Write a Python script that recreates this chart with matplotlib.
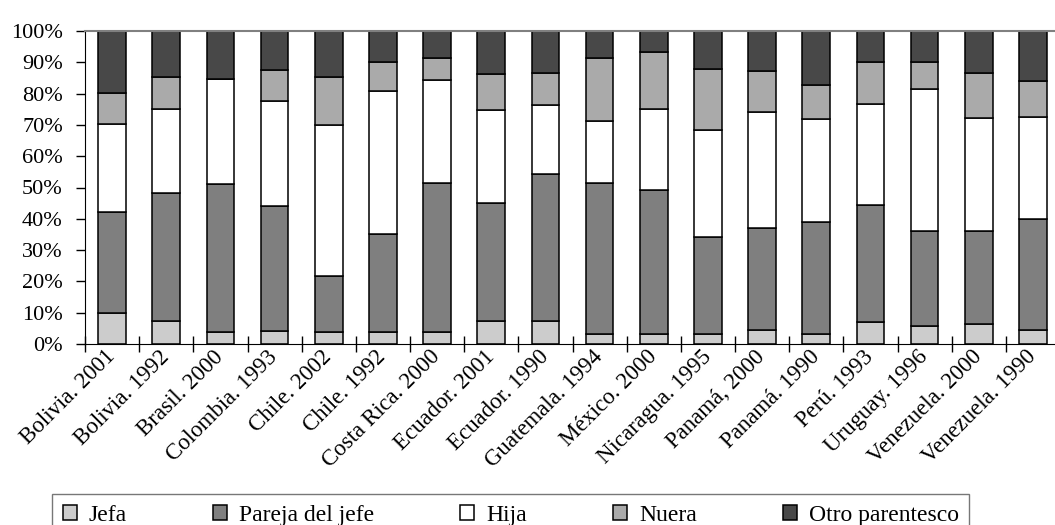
import matplotlib.pyplot as plt
import matplotlib.transforms as mtransforms
import numpy as np

paises = ['Bolivia. 2001', 'Bolivia. 1992', 'Brasil. 2000', 'Colombia. 1993',
          'Chile. 2002', 'Chile. 1992', 'Costa Rica. 2000', 'Ecuador. 2001',
          'Ecuador. 1990', 'Guatemala. 1994', 'México. 2000', 'Nicaragua. 1995',
          'Panamá, 2000', 'Panamá. 1990', 'Perú. 1993', 'Uruguay. 1996',
          'Venezuela. 2000', 'Venezuela. 1990']

jefa   = [9.8, 7.3, 3.7, 4.1, 3.9, 3.7, 3.9, 7.4, 7.4, 3.1, 3.2, 3.1, 4.5, 3.3, 6.9, 5.7, 6.5, 4.6]
pareja = [32.3, 40.9, 47.3, 39.9, 17.7, 31.3, 47.4, 37.7, 46.9, 48.2, 46.1, 31.1, 32.6, 35.6, 37.6, 30.5, 29.6, 35.4]
hija   = [28.1, 27.0, 33.7, 33.6, 48.4, 45.7, 33.2, 29.8, 22.1, 19.8, 25.8, 34.1, 37.0, 33.0, 32.1, 45.4, 36.1, 32.6]
nuera  = [10.0, 10.0, 0.0, 9.8, 15.4, 9.5, 7.0, 11.3, 10.1, 20.2, 18.2, 19.7, 13.1, 11.0, 13.4, 8.4, 14.3, 11.4]
otro   = [19.8, 14.8, 15.3, 12.6, 14.6, 9.8, 8.5, 13.8, 13.5, 8.7, 6.7, 12.0, 12.8, 17.1, 10.0, 10.0, 13.5, 16.0]

series = [('Jefa', jefa, '#cccccc'),
          ('Pareja del jefe', pareja, '#7f7f7f'),
          ('Hija', hija, '#ffffff'),
          ('Nuera', nuera, '#aaaaaa'),
          ('Otro parentesco', otro, '#484848')]

plt.rcParams['font.family'] = 'Liberation Serif'
plt.rcParams['font.size'] = 16

fig = plt.figure(figsize=(10.55, 5.25), dpi=100)
ax = fig.add_axes([85/1055, 181/525, 975/1055, 313/525])

x = np.arange(len(paises))
base = np.zeros(len(paises))
for nombre, vals, col in series:
    vals = np.array(vals)
    ax.bar(x, vals, 0.51, bottom=base, color=col, edgecolor='black',
           linewidth=1.1, label=nombre)
    base += vals

ax.set_xlim(-0.5, len(paises) - 0.5)
ax.set_ylim(0, 100)
ax.set_yticks(np.arange(0, 101, 10))
ax.set_yticklabels([f'{v}%' for v in range(0, 101, 10)])
ax.set_xticks(x)
ax.set_xticklabels(paises, rotation=45, ha='right', va='center',
                   rotation_mode='anchor', fontsize=16.5)
# corrimiento de las etiquetas hacia la derecha
off = mtransforms.ScaledTranslation(5/100, 0, fig.dpi_scale_trans)
for lab in ax.get_xticklabels():
    lab.set_transform(lab.get_transform() + off)
ax.set_xticks(np.arange(-0.5, len(paises), 1), minor=True)
ax.tick_params(axis='x', which='major', length=0, pad=7)
ax.tick_params(axis='x', which='minor', direction='inout', length=12, width=1)
ax.tick_params(axis='y', direction='out', length=6.5, width=1, pad=9.5)

ax.spines['right'].set_visible(False)
ax.spines['top'].set_color('#808080')
ax.spines['top'].set_linewidth(1.5)

leg = fig.legend(loc='upper left', bbox_to_anchor=(52/1055, 1 - 494/525),
                 ncol=5, frameon=True, fancybox=False, edgecolor='#555555',
                 fontsize=17, handlelength=0.6, handleheight=0.6,
                 handletextpad=0.5, columnspacing=3.65, borderpad=0.45,
                 borderaxespad=0)
leg.get_frame().set_linewidth(1)

fig.savefig('out.png', dpi=100)
